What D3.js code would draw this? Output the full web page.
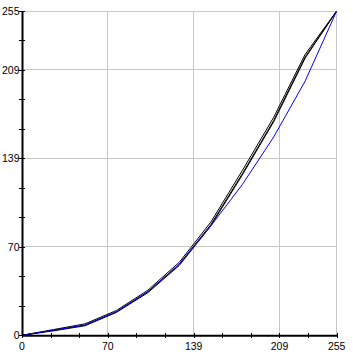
<!DOCTYPE html>
<html>
<head>
<meta charset="utf-8">
<script src="https://cdn.jsdelivr.net/npm/d3@7"></script>
<style>
  body { margin: 0; background: #fff; }
  svg text { font-family: "Liberation Sans", Arial, sans-serif; font-size: 10.5px; fill: #000; }
</style>
</head>
<body>
<div id="chart"></div>
<script>
// input levels where the curve points sit
var inputLevels = [0, 25.5, 51, 76.5, 102, 127.5, 153, 178.5, 204, 229.5, 255];
var blackA = [0, 4, 8, 18.5, 34.3, 56, 87, 127, 169, 219, 255];
var blackB = [0, 4.5, 9, 19.5, 35.5, 57.5, 89, 129.5, 171.5, 221, 255];
var blackC = [0, 3.5, 7.5, 18, 33.5, 55, 86, 126, 168, 218, 255];
var blueCurve = [0, 4, 8, 18.5, 34.3, 56, 86, 118.5, 156, 200, 255];
// axis ticks: 12 evenly spaced, labels on a few
var tickValues = d3.range(12).map(function(k){ return 255 * k / 11; });
var labelledTicks = [0, 3, 6, 9, 11];

(function(){
    var W = 353, H = 357;
    var svg = d3.select('#chart').append('svg')
        .attr('width', W).attr('height', H);

    var x = d3.scaleLinear().domain([0, 255]).range([22, 336.7]);
    var y = d3.scaleLinear().domain([0, 255]).range([335.3, 11]);

    var majors = labelledTicks.map(function(i){ return tickValues[i]; });

    // grid lines (skip the 0 ones, the axes are there)
    var grid = svg.append('g').attr('stroke', '#c8c8c8').attr('stroke-width', 1)
        .attr('shape-rendering', 'crispEdges');
    majors.filter(function(v){ return v > 0; }).forEach(function(v){
        grid.append('line')
            .attr('x1', x(v)).attr('x2', x(v))
            .attr('y1', y(0)).attr('y2', y(255));
        grid.append('line')
            .attr('x1', x(0)).attr('x2', x(255))
            .attr('y1', y(v)).attr('y2', y(v));
    });

    // curves
    var line = d3.line()
        .x(function(d){ return x(d[0]); })
        .y(function(d){ return y(d[1]); });

    function series(vals) {
        return inputLevels.map(function(v, i){ return [v, vals[i]]; });
    }

    [blackA, blackB, blackC].forEach(function(vals){
        svg.append('path')
            .datum(series(vals))
            .attr('fill', 'none')
            .attr('stroke', '#000')
            .attr('stroke-width', 1)
            .attr('d', line);
    });
    svg.append('path')
        .datum(series(blueCurve))
        .attr('fill', 'none')
        .attr('stroke', '#0000ff')
        .attr('stroke-width', 1)
        .attr('d', line);

    // axes
    var xAxis = d3.axisBottom(x).tickValues(tickValues).tickSize(0).tickFormat('');
    var yAxis = d3.axisLeft(y).tickValues(tickValues).tickSize(0).tickFormat('');

    var xg = svg.append('g').attr('transform', 'translate(0,' + y(0) + ')').call(xAxis);
    var yg = svg.append('g').attr('transform', 'translate(' + x(0) + ',0)').call(yAxis);
    [xg, yg].forEach(function(g){
        g.select('.domain').attr('stroke', '#000').attr('stroke-width', 2);
    });

    // tick marks crossing the axes
    xg.selectAll('.tick').append('line')
        .attr('y1', -2.5).attr('y2', 2.5)
        .attr('stroke', '#000').attr('stroke-width', 1)
        .attr('shape-rendering', 'crispEdges');
    yg.selectAll('.tick').append('line')
        .attr('x1', -3).attr('x2', 3)
        .attr('stroke', '#000').attr('stroke-width', 1)
        .attr('shape-rendering', 'crispEdges');

    // labels
    majors.forEach(function(v){
        svg.append('text')
            .attr('x', x(v)).attr('y', 350)
            .attr('text-anchor', 'middle')
            .text(Math.round(v));
        svg.append('text')
            .attr('x', 19.5).attr('y', y(v))
            .attr('dy', '0.36em')
            .attr('text-anchor', 'end')
            .text(Math.round(v));
    });
})();
</script>
</body>
</html>
